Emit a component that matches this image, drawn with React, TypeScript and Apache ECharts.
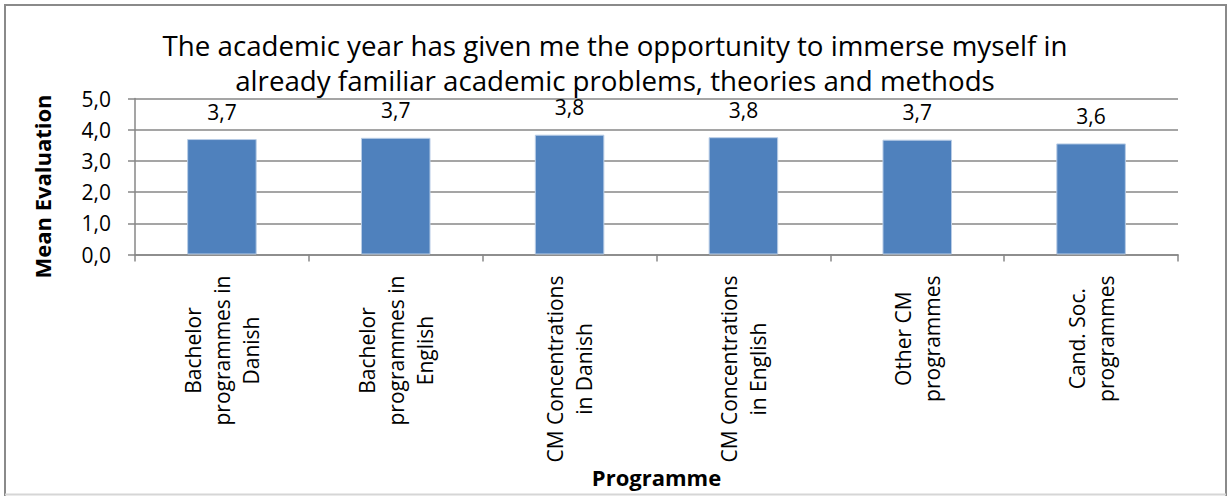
import React, { useEffect, useRef } from "react";
import * as echarts from "echarts";

const titleLines = [
  "The academic year has given me the opportunity to immerse myself in",
  "already familiar academic problems, theories and methods",
];
const categories = [
  "Bachelor\nprogrammes in\nDanish",
  "Bachelor\nprogrammes in\nEnglish",
  "CM Concentrations\nin Danish",
  "CM Concentrations\nin English",
  "Other CM\nprogrammes",
  "Cand. Soc.\nprogrammes",
];
const meanValues = [3.7, 3.74, 3.84, 3.76, 3.68, 3.56];
const yAxisName = "Mean Evaluation";
const xAxisName = "Programme";

const FONT = "'Open Sans', 'DejaVu Sans', sans-serif";
const GRAY = "#878787";
const SMALL = 21;

const fmt = (v: number) => v.toFixed(1).replace(".", ",");

export default function App() {
  const ref = useRef<HTMLDivElement>(null);
  useEffect(() => {
    if (!ref.current) return;
    const chart = echarts.init(ref.current, undefined, { renderer: "svg" });
    chart.setOption({
      animation: false,
      backgroundColor: "#ffffff",
      textStyle: { fontFamily: FONT },
      title: {
        text: titleLines.join("\n"),
        left: "center",
        top: 27,
        padding: 0,
        textStyle: {
          fontFamily: FONT,
          fontSize: 27.7,
          fontWeight: "normal",
          color: "#000",
          lineHeight: 35,
        },
      },
      graphic: [
        {
          type: "polyline",
          shape: { points: [[5, 496], [5, 5], [1226, 5], [1226, 496]] },
          style: { stroke: "#8a8a8a", lineWidth: 2, fill: "none" },
          silent: true,
        },
        {
          type: "line",
          shape: { x1: 5, y1: 494.5, x2: 1226, y2: 494.5 },
          style: { stroke: "#d6d6d6", lineWidth: 2 },
          silent: true,
        },
      ],
      grid: {
        left: 135,
        right: 52,
        top: 98.5,
        bottom: 241.5,
        containLabel: false,
        outerBoundsMode: "none",
      },
      xAxis: {
        type: "category",
        data: categories,
        name: xAxisName,
        nameLocation: "middle",
        nameGap: 208,
        nameTextStyle: { fontFamily: FONT, fontSize: 22, fontWeight: "bold", color: "#000" },
        axisLine: { show: true, lineStyle: { color: GRAY, width: 1.5 } },
        axisTick: { show: true, length: 7, lineStyle: { color: GRAY, width: 1.5 } },
        axisLabel: {
          rotate: 90,
          margin: 21,
          interval: 0,
          color: "#000",
          fontFamily: FONT,
          fontSize: SMALL,
          lineHeight: 29,
          formatter: (v: string) => v.split("\n").map((l) => `{c|${l}}`).join("\n"),
          rich: { c: { align: "center", fontFamily: FONT, fontSize: SMALL, lineHeight: 29, color: "#000" } },
        },
      },
      yAxis: {
        type: "value",
        min: 0,
        max: 5,
        interval: 1,
        name: yAxisName,
        nameLocation: "middle",
        nameGap: 82,
        nameRotate: 90,
        nameTextStyle: {
          fontFamily: FONT,
          fontSize: 22,
          fontWeight: "bold",
          color: "#000",
          padding: [0, 20, 0, 0],
        },
        axisLine: { show: true, lineStyle: { color: GRAY, width: 1.5 } },
        axisTick: { show: true, length: 7, lineStyle: { color: GRAY, width: 1.5 } },
        splitLine: { show: true, lineStyle: { color: GRAY, width: 1.5 } },
        axisLabel: {
          margin: 24,
          color: "#000",
          fontFamily: FONT,
          fontSize: SMALL,
          formatter: (v: number) => fmt(v),
        },
      },
      series: [
        {
          type: "bar",
          data: meanValues,
          barCategoryGap: "60%",
          itemStyle: { color: "#4F81BD", borderColor: "#b9cde6", borderWidth: 1 },
          label: {
            show: true,
            position: "top",
            distance: 17,
            color: "#000",
            fontFamily: FONT,
            fontSize: SMALL,
            formatter: (p: any) => fmt(p.value),
          },
        },
      ],
    });
    return () => chart.dispose();
  }, []);
  return (
    <div
      ref={ref}
      style={{ position: "absolute", left: 0, top: 0, width: 1230, height: 496 }}
    />
  );
}
